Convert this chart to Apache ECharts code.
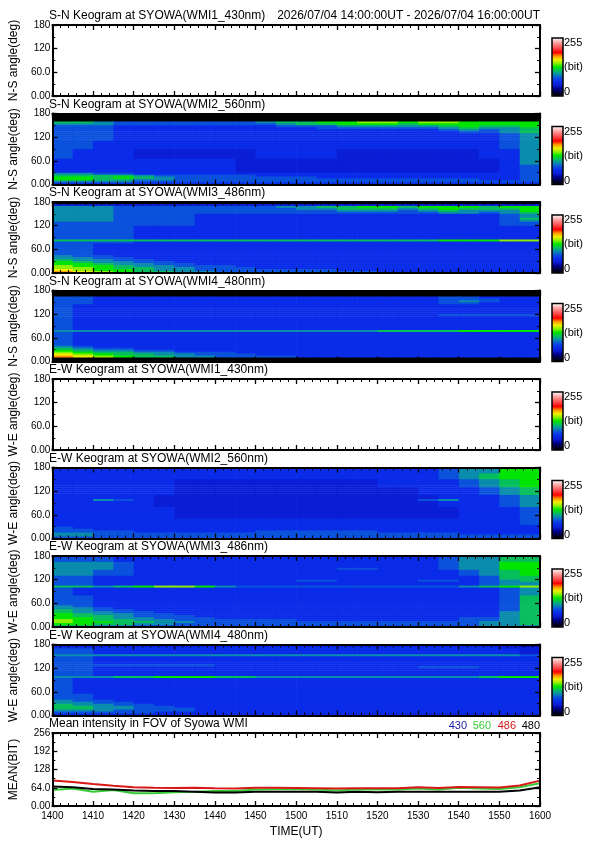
<!DOCTYPE html>
<html><head><meta charset="utf-8">
<script src="https://cdn.jsdelivr.net/npm/echarts@6/dist/echarts.min.js"></script>
<style>html,body{margin:0;padding:0;background:#fff}#c{width:595px;height:842px}</style>
</head><body><div id="c"></div>
<script>
// ---------------- DATA ----------------
// Time axis: minutes after 14:00 UT, 0..120, ticks every 10 min
const TIME_MIN = 0, TIME_MAX = 120, TIME_STEP = 5, COLS = 24;
const ANGLE_MAX = 180, ANGLE_STEP = 5;
const LEVEL_SCALE = 16; // each hex digit in keogram rows = level, value(bit) = level*16
const ANGLE_TICK_LABELS = {0:'0.00', 60:'60.0', 120:'120', 180:'180'};
const MEAN_TICK_LABELS = {0:'0.00', 64:'64.0', 128:'128', 192:'192', 256:'256'};
const PANEL_TITLES = [
  'S-N Keogram at SYOWA(WMI1_430nm)', 'S-N Keogram at SYOWA(WMI2_560nm)',
  'S-N Keogram at SYOWA(WMI3_486nm)', 'S-N Keogram at SYOWA(WMI4_480nm)',
  'E-W Keogram at SYOWA(WMI1_430nm)', 'E-W Keogram at SYOWA(WMI2_560nm)',
  'E-W Keogram at SYOWA(WMI3_486nm)', 'E-W Keogram at SYOWA(WMI4_480nm)',
  'Mean intensity in FOV of Syowa WMI'];
const Y_NAMES = ['N-S angle(deg)','N-S angle(deg)','N-S angle(deg)','N-S angle(deg)',
  'W-E angle(deg)','W-E angle(deg)','W-E angle(deg)','W-E angle(deg)','MEAN(BIT)'];
const DATE_RANGE = '2026/07/04 14:00:00UT - 2026/07/04 16:00:00UT';
const COLORBAR_TEXT = ['255', '(bit)', '0'];

// Keogram rows, top row = 175-180 deg, bottom row = 0-5 deg; 24 columns of 5 min
const NS_WMI1_430 = [];
const NS_WMI2_560 = [
 "000000 000000 000000 000000","000000 000000 000000 000000","000000 000000 000000 000000","000000 000000 000000 000000",
 "776555 555567 788998 998888","666555 555556 778887 888888","555444 444445 556666 678778","555444 444444 455555 567667",
 "555444 444444 444444 456567","555444 444444 444444 445567","555444 444444 444444 444456","555444 444444 444444 444456",
 "555444 444444 444444 444456","555444 444444 444444 444456","554444 444444 444444 444456","554444 444444 444444 444456",
 "554444 444444 444444 444456","554444 444444 444444 444456","544433 333344 443333 333446","544433 333344 443333 333446",
 "544433 333344 443333 333446","544433 333344 443333 333446","544433 333344 443333 333446","444444 444333 333333 333346",
 "444444 444333 333333 333346","444444 444333 333333 333346","444444 444333 333333 333345","444444 444333 333333 333345",
 "444444 444333 333333 333345","444444 444333 333333 333345","665544 444444 444444 444445","777765 555544 444444 444445",
 "887876 555555 544444 444445","887766 555555 555555 555445","666655 555555 555555 555555","444444 444444 444444 444444"];
const NS_WMI3_486 = [
 "000000 000000 000000 000000","333333 333333 333333 333333","666555 555556 677887 888788","666555 555555 667776 787778",
 "666555 555555 556665 676668","666555 555555 555555 566567","666555 544444 444444 444456","666555 544444 444444 444456",
 "666555 544444 444444 444457","666555 544444 444444 444456","555555 544444 444444 444455","555555 544444 444444 444455",
 "555544 444444 444444 444444","555544 444444 444444 444444","555544 444444 444444 444444","555544 444444 444444 444444",
 "555544 444444 444444 444444","555544 444444 444444 444444","555544 444444 444444 444444","777777 777777 777777 788899",
 "555544 444444 444444 444444","554444 444444 444444 444444","554444 444444 444444 444444","554444 444444 444444 444444",
 "554444 444444 444444 444444","554444 444444 444444 444444","554444 444444 444444 444444","655444 444444 444444 444444",
 "665544 444444 444444 444444","766554 444444 444444 444444","876655 444444 444444 444444","887665 544444 444444 444444",
 "988766 555444 444444 444444","998776 655544 444444 444444","a98876 655555 554444 444444","ba9877 665555 555544 444444"];
const NS_WMI4_480 = [
 "000000 000000 000000 000000","000000 000000 000000 000000","000000 000000 000000 000000","554444 444444 444444 455444",
 "554444 444444 444444 455544","554444 444444 444444 456544","554444 444444 444444 455444","544444 444444 444444 444444",
 "544444 444444 444444 444444","544444 444444 444444 444444","544444 444444 444444 444444","544444 444444 444444 444444",
 "544444 444444 444444 455555","544444 444444 444444 444444","544444 444444 444444 444444","544444 444444 444444 444444",
 "544444 444444 444444 444444","544444 444444 444444 444444","544444 444444 444444 444444","544444 444444 444444 444444",
 "666666 666666 666677 778888","544444 444444 444444 444444","544444 444444 444444 444444","544444 444444 444444 444444",
 "544444 444444 444444 444444","544444 444444 444444 444444","544444 444444 444444 444444","544444 444444 444444 444444",
 "654444 444444 444444 444444","765544 444444 444444 444444","876655 444444 444444 444444","987766 555444 444444 444444",
 "a98776 655544 444444 444444","ba9877 665555 444444 444444","000000 000000 000000 000000","000000 000000 000000 000000"];
const EW_WMI1_430 = [];
const EW_WMI2_560 = [
 "444444 444444 444444 456688","444444 444444 444444 456688","444444 444444 444444 456688","444444 444444 444444 456788",
 "444444 444444 444444 456788","444444 444444 444444 456788","444444 333333 333344 445678","444444 333333 333344 445678",
 "444444 333333 333344 445678","444444 333333 333344 445678","444444 333333 333333 444567","444444 333333 333333 444567",
 "444444 333333 333333 444567","444444 333333 333333 444567","444443 333333 333333 344456","444443 333333 333333 344456",
 "446543 333333 333333 564456","444443 333333 333333 344456","444443 333333 333333 344456","444443 333333 333333 344456",
 "444444 333333 333333 334445","444444 333333 333333 334445","444444 333333 333333 334445","444444 333333 333333 334445",
 "444444 333333 333333 334445","444444 333333 333333 334445","444444 444444 444444 444445","444444 444444 444444 444445",
 "444444 444444 444444 444445","444444 444444 444444 444444","544444 444444 444444 444444","554444 444444 444444 444444",
 "555544 444455 555544 444444","665555 555555 555555 554444","665555 555555 555555 555555","555555 555555 555555 555555"];
const EW_WMI3_486 = [
 "555444 444444 444444 456677","555444 444444 444444 456677","555444 444444 444444 456677","666544 444444 444444 456688",
 "666544 444444 444444 456688","666544 444444 444444 456688","666544 444444 445544 456688","665544 444444 444444 445678",
 "665544 444444 444444 445678","665544 444444 444444 445678","554444 444444 444444 444577","554444 444444 444444 444577",
 "554444 444444 554444 554567","554444 444444 444444 444566","554444 444444 444444 444566","776789 986555 555555 556789",
 "544444 444444 444444 444456","544444 444444 444444 444456","544444 444444 444444 444456","544444 444444 444444 444456",
 "554444 444444 444444 444457","554444 444444 444444 444457","554444 444444 444444 444457","554444 444444 444444 444457",
 "554444 444444 444444 444457","654444 444444 444444 444457","665444 444444 444444 444457","765544 444444 444444 444457",
 "766554 444444 444444 444467","876655 444444 444444 444467","877655 544444 444444 444467","887665 554444 444444 445567",
 "987766 555555 444444 445567","988776 655555 555555 555667","887766 555555 555555 555667","776655 555555 555555 555666"];
const EW_WMI4_480 = [
 "333333 333333 333333 333332","444444 444444 444444 444433","554444 444444 444444 444443","554444 444444 444444 444443",
 "554444 444444 444444 444443","666666 666666 666666 666665","554444 444444 444444 444444","554444 444444 444444 444444",
 "554444 444444 444444 444444","554444 444444 444444 444444","555555 554444 444444 444444","554444 444444 444444 555444",
 "554444 444444 444444 444444","554444 444444 444444 444444","554444 444444 444444 444444","554444 444444 444444 444444",
 "666778 887766 666666 666788","544444 444444 444444 444444","544444 444444 444444 444444","544444 444444 444444 444444",
 "544444 444444 444444 444444","544444 444444 444444 444444","544444 444444 444444 444444","544444 444444 444444 444444",
 "544444 444444 444444 444444","554444 444444 444444 444444","554444 444444 444444 444444","554444 444444 444444 444444",
 "655444 444444 444444 444444","665544 444444 444444 444444","766554 444444 444444 444444","776655 444444 444444 444444",
 "776655 544444 444444 444444","666555 544444 444444 444444","555554 444444 444444 444444","444444 444444 444444 444444"];

// Mean intensity (bit) every 5 min from 14:00 to 16:00
const MEAN_TIMES = [0,5,10,15,20,25,30,35,40,45,50,55,60,65,70,75,80,85,90,95,100,105,110,115,120];
const MEAN_430 = [];
const MEAN_560 = [56,61,50,56,45,45,48,50,53,53,58,59,59,58,54,58,58,58,61,58,64,61,60,66,80];
const MEAN_486 = [89,84,77,71,66,64,63,64,62,61,64,64,63,62,61,62,62,62,66,63,67,66,65,72,89];
const MEAN_480 = [68,66,60,58,54,53,53,50,47,47,50,50,50,50,47,50,48,50,50,50,50,50,50,54,66];
const MEAN_COLORS = {'430':'#1c1ca8','560':'#36cc36','486':'#d81818','480':'#000000'};

// ---------------- LAYOUT / STYLE ----------------
const FONT = "'Liberation Sans', Arial, sans-serif";
const PLOT_LEFT = 49, PLOT_RIGHT = 55, CB_X = 552, CB_W = 11;
const PANEL_TOPS = [25, 113.5, 202, 290.5, 379, 467.5, 556, 644.5];
const PANEL_H = 71, MEAN_TOP = 733, MEAN_H = 73;
const CMAP = ['#000000','#00003c','#00008c','#0a1ed6','#0a2ce8','#0a52dc','#0a8cac','#06be5c',
  '#00e400','#8cf000','#f0f000','#ff9600','#ff0000','#ff4040','#ff7878','#ffb4b4','#ffffff'];

const KEOGRAMS = [NS_WMI1_430, NS_WMI2_560, NS_WMI3_486, NS_WMI4_480, EW_WMI1_430, EW_WMI2_560, EW_WMI3_486, EW_WMI4_480];

function toCells(rows){
  const out = [];
  rows.forEach((row, r) => {
    const s = row.replace(/\s+/g, '');
    const ang = ANGLE_MAX - ANGLE_STEP * (r + 1);
    for (let c = 0; c < COLS; c++) {
      const ch = s[Math.min(c, s.length - 1)];
      out.push([TIME_MIN + c * TIME_STEP, ang, parseInt(ch, 16) * LEVEL_SCALE]);
    }
  });
  return out;
}
function renderCell(params, api){
  const t = api.value(0), a = api.value(1);
  const p0 = api.coord([t, a + ANGLE_STEP]);
  const p1 = api.coord([t + TIME_STEP, a]);
  return {type:'rect', shape:{x:p0[0], y:p0[1], width:p1[0]-p0[0]+0.6, height:p1[1]-p0[1]+0.6},
    style:{fill: api.visual('color')}};
}
function fmtTime(v){ return String(1400 + Math.floor(v/60)*100 + (v%60)); }

const grids = [], xAxes = [], yAxes = [], series = [], visualMaps = [], graphics = [];
const lineAxis = {show:true, onZero:false, lineStyle:{color:'#000', width:2}};
const tick = {show:true, inside:true, length:5, lineStyle:{color:'#000', width:1.3}};
const minor = (n) => ({show:true, splitNumber:n, length:3, lineStyle:{color:'#000', width:1}});

for (let i = 0; i < 9; i++) {
  const isMean = i === 8;
  const top = isMean ? MEAN_TOP : PANEL_TOPS[i];
  const h = isMean ? MEAN_H : PANEL_H;
  grids.push({left:PLOT_LEFT, right:PLOT_RIGHT, top:top, height:h, containLabel:false});
  ['bottom','top'].forEach(pos => {
    const lab = isMean && pos === 'bottom';
    xAxes.push({gridIndex:i, type:'value', position:pos, min:TIME_MIN, max:TIME_MAX, interval:10, z:10,
      axisLine:lineAxis, axisTick:tick, minorTick:minor(5), splitLine:{show:false},
      axisLabel:{show:lab, formatter:fmtTime, color:'#000', fontSize:10, margin:5, fontFamily:FONT},
      name: lab ? 'TIME(UT)' : '', nameLocation:'middle', nameGap:20,
      nameTextStyle:{color:'#000', fontSize:12, fontFamily:FONT}});
  });
  ['left','right'].forEach(pos => {
    const lab = pos === 'left';
    const labels = isMean ? MEAN_TICK_LABELS : ANGLE_TICK_LABELS;
    yAxes.push({gridIndex:i, type:'value', position:pos, min:0, max:isMean?256:ANGLE_MAX, interval:isMean?64:60, z:10,
      axisLine:lineAxis, axisTick:tick, minorTick:minor(2), splitLine:{show:false},
      axisLabel:{show:lab, formatter:v => labels[v] !== undefined ? labels[v] : '', color:'#000', fontSize:10, margin:2, fontFamily:FONT},
      name: lab ? Y_NAMES[i] : '', nameLocation:'middle', nameGap:21, nameRotate:90,
      nameTextStyle:{color:'#000', fontSize:12, fontFamily:FONT}});
  });
  graphics.push({type:'text', x:PLOT_LEFT, y:top-9, z:100,
    style:{text:PANEL_TITLES[i], font:'12px ' + FONT, fill:'#000', textAlign:'left', textVerticalAlign:'middle'}});
  if (!isMean) {
    series.push({type:'custom', name:PANEL_TITLES[i], xAxisIndex:2*i, yAxisIndex:2*i, clip:true,
      dimensions:['t','ang','val'], encode:{x:0, y:1, tooltip:2},
      renderItem:renderCell, data:toCells(KEOGRAMS[i]), silent:true});
    visualMaps.push({type:'continuous', seriesIndex:i, dimension:2, min:0, max:256, orient:'vertical',
      left:CB_X, top:top+13, itemWidth:CB_W, itemHeight:58, padding:0, calculable:false, hoverLink:false,
      text:null, inRange:{color:CMAP}});
    graphics.push({type:'rect', z:100, shape:{x:CB_X, y:top+13, width:CB_W, height:58},
      style:{fill:'none', stroke:'#000', lineWidth:1.5}});
    const ys = [top+18, top+42, top+67];
    COLORBAR_TEXT.forEach((t, k) => graphics.push({type:'text', x:CB_X+12, y:ys[k], z:100,
      style:{text:t, font:'11px ' + FONT, fill:'#000', textAlign:'left', textVerticalAlign:'middle'}}));
  }
}
graphics.push({type:'text', x:540, y:16, z:100,
  style:{text:DATE_RANGE, font:'12px ' + FONT, fill:'#000', textAlign:'right', textVerticalAlign:'middle'}});

const MEAN_SERIES = [['430', MEAN_430], ['560', MEAN_560], ['486', MEAN_486], ['480', MEAN_480]];
MEAN_SERIES.forEach(([name, vals]) => {
  series.push({type:'line', name:name, xAxisIndex:16, yAxisIndex:16, showSymbol:false, animation:false,
    data: vals.map((v, k) => [MEAN_TIMES[k], v]), lineStyle:{color:MEAN_COLORS[name], width:2},
    itemStyle:{color:MEAN_COLORS[name]}, z:5});
});
// legend text (right aligned at plot right edge)
const legendRight = [467, 491, 516, 540];
MEAN_SERIES.forEach(([name], k) => graphics.push({type:'text', x:legendRight[k], y:726, z:100,
  style:{text:name, font:'11px ' + FONT, fill:MEAN_COLORS[name], textAlign:'right', textVerticalAlign:'middle'}}));

const chart = echarts.init(document.getElementById('c'), null, {renderer:'canvas', width:595, height:842});
chart.setOption({
  animation:false, backgroundColor:'#ffffff',
  grid:grids, xAxis:xAxes, yAxis:yAxes, visualMap:visualMaps, series:series, graphic:graphics
});
</script></body></html>
